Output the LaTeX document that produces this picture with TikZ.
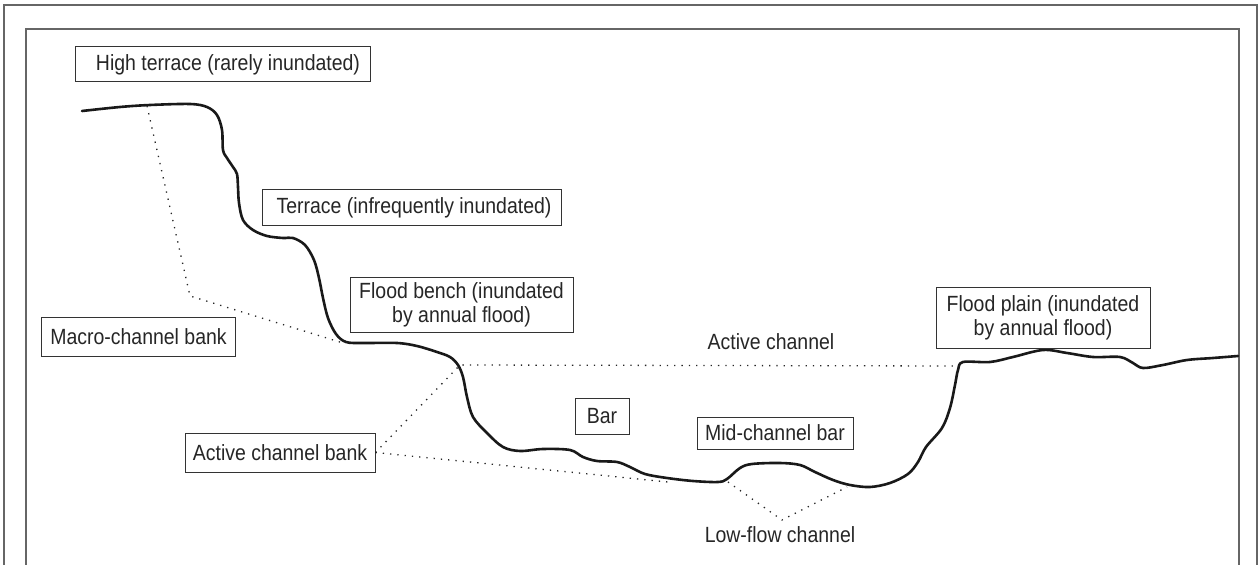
\documentclass[tikz,border=0pt]{standalone}
\usepackage{fontspec}
\setmainfont{Liberation Sans}[FakeStretch=0.885]
\begin{document}
\begin{tikzpicture}[x=1bp,y=-1bp,
  lbl/.style={draw=black!80, line width=1bp, fill=white, text=black!85, align=center, inner sep=0pt,
    font=\fontsize{22bp}{24bp}\selectfont},
  plainlbl/.style={text=black!85, inner sep=0pt, font=\fontsize{22bp}{24bp}\selectfont},
  framel/.style={draw=black!60, line width=1.5bp},
  prof/.style={draw=black!90, line width=2.6bp, line join=round, line cap=round},
  dots/.style={draw=black!85, line width=1.3bp, dash pattern=on 1.3bp off 6bp}]
\useasboundingbox (0,0) rectangle (1259,565);
% frames
\draw[framel] (4,565) -- (4,5) -- (1257,5) -- (1257,565);
\draw[framel] (26,565) -- (26,29) -- (1239,29) -- (1239,565);
% profile
\draw[prof] plot[smooth, tension=0.55] coordinates {
 (82,111) (120,107) (150,105) (190,104) (207,107) (217,115) (222,130) (223,150)
 (227,158) (233,167) (237,174) (238,187) (239,203) (243,220) (253,230) (267,236)
 (283,238) (293,238) (305,245) (314,260) (319,278) (323,298) (328,318) (336,334)
 (346,342) (363,343) (397,343) (417,346) (437,352) (450,357) (458,365) (463,377)
 (467,397) (473,417) (487,433) (503,447) (520,451) (543,449) (570,450) (583,457)
 (597,461) (617,462) (630,467) (645,474) (667,478) (693,481) (718,482) (727,479)
 (740,468) (752,464) (780,463) (800,465) (815,472) (833,480) (850,485) (870,487)
 (890,483) (908,474) (918,462) (926,447) (942,428) (950,408) (955,385) (958,370)
 (963,362) (990,362) (1013,357) (1043,350) (1067,353) (1093,357) (1120,357)
 (1133,363) (1143,368) (1163,365) (1187,360) (1213,358) (1238,356)};
% named points on the profile
\coordinate (mtop) at (147,106);
\coordinate (mkink) at (190,296);
\coordinate (mbot) at (343,343);
\coordinate (acl) at (460,365);
\coordinate (acr) at (958,366);
\coordinate (lowb) at (668,482);
\coordinate (lf1) at (728,482);
\coordinate (lf2) at (847,487);
% labels
\node[lbl, minimum width=294bp, minimum height=35bp] (high) at (223,64.5) {\hspace*{10bp}High terrace (rarely inundated)};
\node[lbl, minimum width=299bp, minimum height=36bp] (terr) at (411.5,208) {\hspace*{5bp}Terrace (infrequently inundated)};
\node[lbl, minimum width=223bp, minimum height=54bp] (bench) at (461.5,305) {Flood bench (inundated\\by annual flood)};
\node[lbl, minimum width=193bp, minimum height=38bp] (macro) at (138.5,337) {Macro-channel bank};
\node[lbl, minimum width=190bp, minimum height=39bp] (acb) at (280,452.5) {Active channel bank};
\node[lbl, minimum width=54bp, minimum height=36bp] (bar) at (602,416) {Bar};
\node[lbl, minimum width=156bp, minimum height=32bp] (mid) at (775,433) {Mid-channel bar};
\node[lbl, minimum width=214bp, minimum height=60bp] (fplain) at (1043,318) {Flood plain (inundated\\by annual flood)};
\node[plainlbl] (actc) at (771,342) {Active channel};
\node[plainlbl] (lowf) at (780,535) {Low-flow channel};
\coordinate (lfv) at (782,520);
% dotted leaders
\draw[dots] (mtop) -- (mkink) -- (mbot);
\draw[dots] (acb.east) -- (acl) -- (acr);
\draw[dots] (acb.east) -- (lowb);
\draw[dots] (lf1) -- (lfv) -- (lf2);
\end{tikzpicture}
\end{document}
